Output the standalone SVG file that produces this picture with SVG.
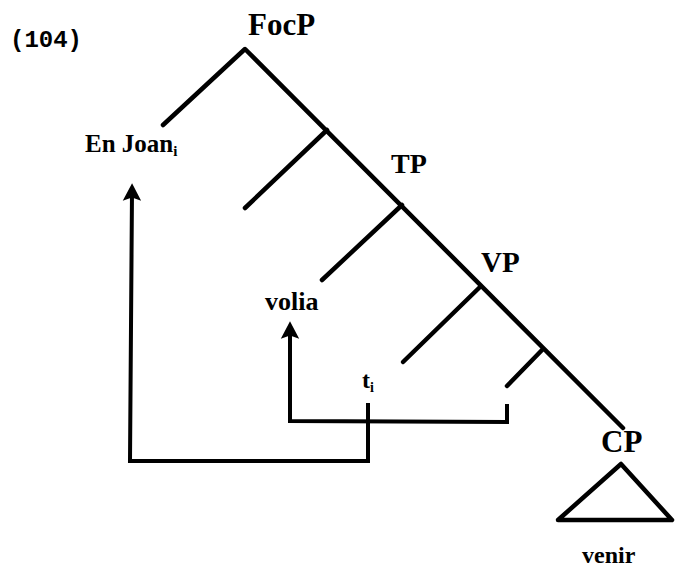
<svg xmlns="http://www.w3.org/2000/svg" width="675" height="571" viewBox="0 0 675 571">
<style>
.t{font-family:"Liberation Serif","Times New Roman",serif;font-weight:bold;fill:#000}
.m{font-family:"Liberation Mono","Courier New",monospace;font-weight:bold;fill:#000}
.l{stroke:#000;stroke-width:4.5;fill:none;stroke-linecap:round;stroke-linejoin:round}
.a{stroke:#000;stroke-width:4;fill:none;stroke-linejoin:miter}
</style>
<defs>
<marker id="ah" markerWidth="5" markerHeight="5" refX="2.2" refY="2.5" orient="auto" markerUnits="strokeWidth">
<path d="M0,0.2 L4.4,2.5 L0,4.8 L0.8,2.5 Z" fill="#000"/>
</marker>
</defs>
<rect width="675" height="571" fill="#fff"/>
<text class="m" x="10" y="47" font-size="24">(104)</text>
<g id="tree" class="l">
<path d="M163,125 L245,49 L623,428"/>
<path d="M327,130 L245,208"/>
<path d="M402,205 L322,280"/>
<path d="M480,287 L403,362"/>
<path d="M543,349 L507,386"/>
</g>
<g id="FocP"><text class="t" x="248" y="35" font-size="31">FocP</text></g>
<g id="EnJoan"><text class="t" x="85" y="152" font-size="25">En Joan<tspan font-size="15" dy="4">i</tspan></text></g>
<g id="TP"><text class="t" x="391" y="173" font-size="28">TP</text></g>
<g id="VP"><text class="t" x="481" y="272" font-size="29">VP</text></g>
<g id="volia"><text class="t" x="265" y="310" font-size="26">volia</text></g>
<g id="ti"><text class="t" x="362" y="388" font-size="24">t<tspan font-size="14" dy="4">i</tspan></text></g>
<g id="CP"><text class="t" x="601" y="452" font-size="31">CP</text>
<path class="l" d="M558,520 L621,464 L672,520 Z"/></g>
<g id="venir"><text class="t" x="582" y="563" font-size="24">venir</text></g>
<g id="connectors">
<path class="a" d="M368,403 L368,461 L130,461 L132,192" marker-end="url(#ah)"/>
<path class="a" d="M507,404 L507,422 L290,421 L290,330" marker-end="url(#ah)"/>
</g>
</svg>
